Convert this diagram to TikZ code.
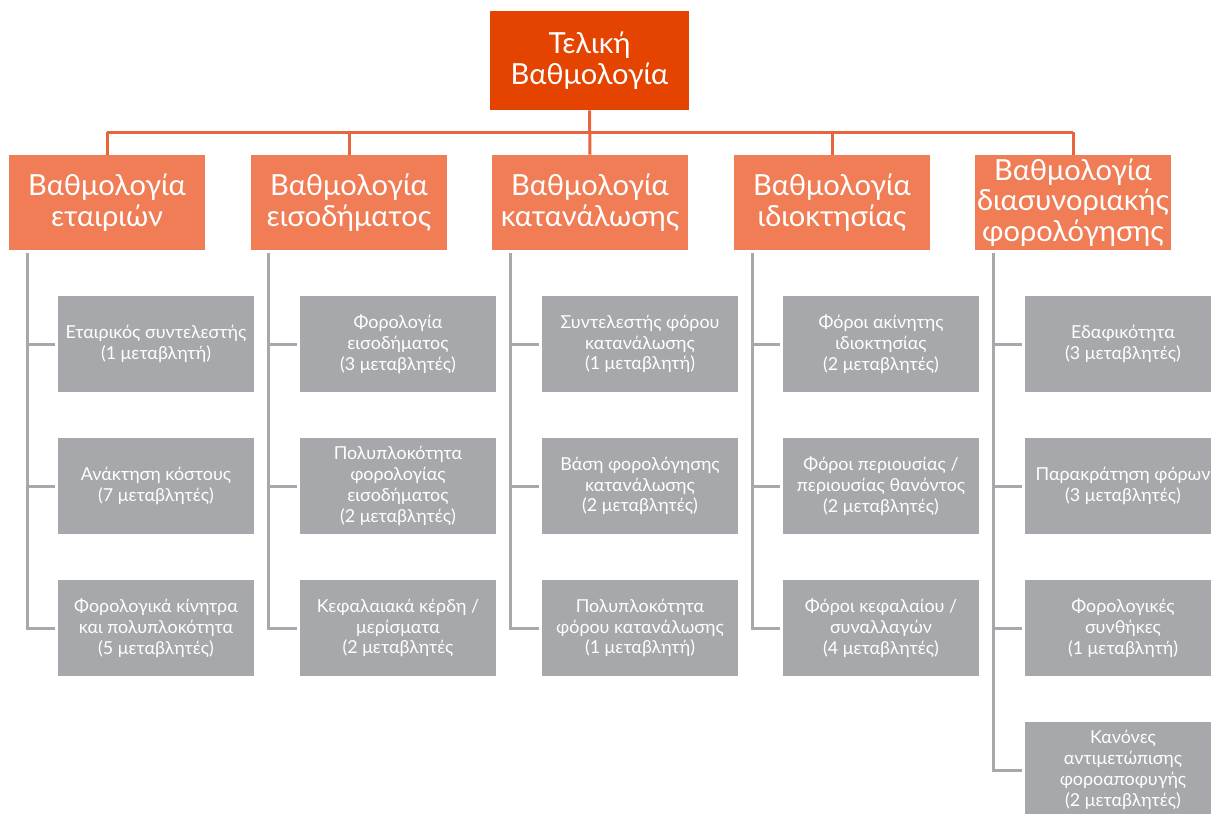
\documentclass[tikz,border=0pt]{standalone}
\usepackage{fontspec}
\setmainfont{Lato}
\begin{document}
\begin{tikzpicture}[x=0.75pt,y=-0.75pt,
  topbox/.style={fill=topc,draw=none,minimum width=199*0.75pt,minimum height=99*0.75pt,inner sep=0pt,align=center,text=white,font=\fontsize{21.8pt}{23.4pt}\selectfont},
  midbox/.style={fill=midc,draw=none,minimum width=196*0.75pt,minimum height=95*0.75pt,inner sep=0pt,align=center,text=white,font=\fontsize{21.8pt}{23pt}\selectfont},
  leafbox/.style={fill=leafc,draw=none,minimum width=196*0.75pt,minimum height=96*0.75pt,inner sep=0pt,align=center,text=white,font=\fontsize{13.4pt}{15.7pt}\selectfont},
  oline/.style={draw=linec,line width=2.25pt},
  gline/.style={draw=leafc,line width=2.25pt},
]
\definecolor{topc}{HTML}{E44300}
\definecolor{midc}{HTML}{F07D55}
\definecolor{linec}{HTML}{E8643C}
\definecolor{leafc}{HTML}{A7A8AB}
\clip (0,0) rectangle (1211,814);
\fill[white] (0,0) rectangle (1211,814);

\node[topbox] (top) at (589.5,60.5) {Τελική\\Βαθμολογία};

\node[midbox] (b1) at (107,202.5) {Βαθμολογία\\εταιριών};
\node[midbox] (b2) at (349,202.5) {Βαθμολογία\\εισοδήματος};
\node[midbox] (b3) at (590,202.5) {Βαθμολογία\\κατανάλωσης};
\node[midbox] (b4) at (832,202.5) {Βαθμολογία\\ιδιοκτησίας};
\node[midbox] (b5) at (1073,202.5) {Βαθμολογία\\διασυνοριακής\\φορολόγησης};

\coordinate (busL) at (107,132);
\coordinate (busR) at (1073,132);
\draw[oline] (busL) -- (busR);
\draw[oline] (top.south) -- (b3.north);
\foreach \b in {b1,b2,b4,b5} \draw[oline] (\b.north |- busL) -- (\b.north);

% leaves
\node[leafbox] (g11) at (156,344) {Εταιρικός συντελεστής\\(1 μεταβλητή)};
\node[leafbox] (g12) at (156,486) {Ανάκτηση κόστους\\(7 μεταβλητές)};
\node[leafbox] (g13) at (156,628) {Φορολογικά κίνητρα\\και πολυπλοκότητα\\(5 μεταβλητές)};

\node[leafbox] (g21) at (398,344) {Φορολογία\\εισοδήματος\\(3 μεταβλητές)};
\node[leafbox] (g22) at (398,486) {Πολυπλοκότητα\\φορολογίας\\εισοδήματος\\(2 μεταβλητές)};
\node[leafbox] (g23) at (398,628) {Κεφαλαιακά κέρδη /\\μερίσματα\\(2 μεταβλητές};

\node[leafbox] (g31) at (640,344) {Συντελεστής φόρου\\κατανάλωσης\\(1 μεταβλητή)};
\node[leafbox] (g32) at (640,486) {Βάση φορολόγησης\\κατανάλωσης\\(2 μεταβλητές)};
\node[leafbox] (g33) at (640,628) {Πολυπλοκότητα\\φόρου κατανάλωσης\\(1 μεταβλητή)};

\node[leafbox] (g41) at (881,344) {Φόροι ακίνητης\\ιδιοκτησίας\\(2 μεταβλητές)};
\node[leafbox] (g42) at (881,486) {Φόροι περιουσίας /\\περιουσίας θανόντος\\(2 μεταβλητές)};
\node[leafbox] (g43) at (881,628) {Φόροι κεφαλαίου /\\συναλλαγών\\(4 μεταβλητές)};

\node[leafbox] (g51) at (1123,344) {Εδαφικότητα\\(3 μεταβλητές)};
\node[leafbox] (g52) at (1123,486) {Παρακράτηση φόρων\\(3 μεταβλητές)};
\node[leafbox] (g53) at (1123,628) {Φορολογικές\\συνθήκες\\(1 μεταβλητή)};
\node[leafbox] (g54) at (1123,770) {Κανόνες\\αντιμετώπισης\\φοροαποφυγής\\(2 μεταβλητές)};

% gray connectors
\coordinate (v1) at (27,253);
\coordinate (v2) at (268,253);
\coordinate (v3) at (510,253);
\coordinate (v4) at (752,253);
\coordinate (v5) at (993,253);
\draw[gline] (v1) |- ([xshift=-2pt]g13.west);
\draw[gline] ([xshift=-2pt]g11.west) -- (g11.west -| v1);
\draw[gline] ([xshift=-2pt]g12.west) -- (g12.west -| v1);
\draw[gline] (v2) |- ([xshift=-2pt]g23.west);
\draw[gline] ([xshift=-2pt]g21.west) -- (g21.west -| v2);
\draw[gline] ([xshift=-2pt]g22.west) -- (g22.west -| v2);
\draw[gline] (v3) |- ([xshift=-2pt]g33.west);
\draw[gline] ([xshift=-2pt]g31.west) -- (g31.west -| v3);
\draw[gline] ([xshift=-2pt]g32.west) -- (g32.west -| v3);
\draw[gline] (v4) |- ([xshift=-2pt]g43.west);
\draw[gline] ([xshift=-2pt]g41.west) -- (g41.west -| v4);
\draw[gline] ([xshift=-2pt]g42.west) -- (g42.west -| v4);
\draw[gline] (v5) |- ([xshift=-2pt]g54.west);
\draw[gline] ([xshift=-2pt]g51.west) -- (g51.west -| v5);
\draw[gline] ([xshift=-2pt]g52.west) -- (g52.west -| v5);
\draw[gline] ([xshift=-2pt]g53.west) -- (g53.west -| v5);
\end{tikzpicture}
\end{document}
